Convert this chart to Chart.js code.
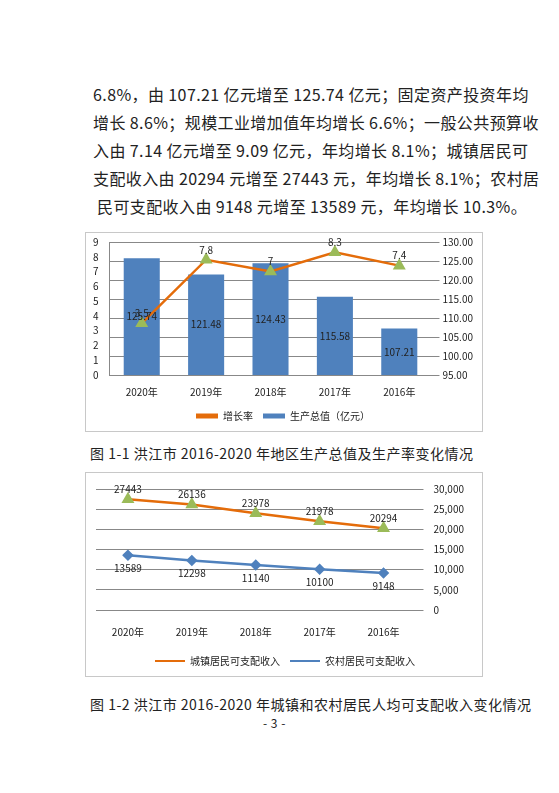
<!DOCTYPE html>
<html><head><meta charset="utf-8">
<script src="https://cdn.jsdelivr.net/npm/chart.js@4"></script>
<style>
body{margin:0;background:#fff;width:559px;height:793px;position:relative;font-family:"Noto Sans CJK SC",sans-serif;color:#222;}
.p{position:absolute;left:93px;font-size:16px;line-height:28px;white-space:nowrap;letter-spacing:0.4px}
.box{position:absolute;border:1px solid #c8c8c8;background:#fff}
.cap{position:absolute;font-size:14px;white-space:nowrap;letter-spacing:0.5px}
</style></head><body>
<div class="p" style="top:80px">6.8%，由 107.21 亿元增至 125.74 亿元；固定资产投资年均<br>增长 8.6%；规模工业增加值年均增长 6.6%；一般公共预算收<br>入由 7.14 亿元增至 9.09 亿元，年均增长 8.1%；城镇居民可<br>支配收入由 20294 元增至 27443 元，年均增长 8.1%；农村居<br>&nbsp;民可支配收入由 9148 元增至 13589 元，年均增长 10.3%。</div>
<div class="box" style="left:85px;top:232px;width:396px;height:198px"><canvas id="c1"></canvas></div>
<div class="cap" style="left:90px;top:443px">图 1-1 洪江市 2016-2020 年地区生产总值及生产率变化情况</div>
<div class="box" style="left:85px;top:472px;width:396px;height:203px"><canvas id="c2"></canvas></div>
<div class="cap" style="left:90px;top:694px">图 1-2 洪江市 2016-2020 年城镇和农村居民人均可支配收入变化情况</div>
<div class="cap" style="left:263px;top:714px;font-size:12px">- 3 -</div>
<script>
var years = ['2020年', '2019年', '2018年', '2017年', '2016年'];
var gdp = [125.74, 121.48, 124.43, 115.58, 107.21];
var growth = [3.5, 7.8, 7, 8.3, 7.4];
var urban = [27443, 26136, 23978, 21978, 20294];
var rural = [13589, 12298, 11140, 10100, 9148];

var blue = '#4f81bd', orange = '#e46c0a', tri = '#9bbb59';
Chart.defaults.font.family = '"Noto Sans CJK SC", sans-serif';
Chart.defaults.font.size = 10;
Chart.defaults.color = '#222';
Chart.defaults.animation = false;

var labelPlugin = {
    id: 'valueLabels',
    afterDraw: function (chart) {
        var ctx = chart.ctx;
        ctx.save();
        ctx.font = '10px "Noto Sans CJK SC", sans-serif';
        ctx.fillStyle = '#222';
        ctx.textAlign = 'center';
        ctx.textBaseline = 'middle';
        chart.data.datasets.forEach(function (ds, i) {
            var meta = chart.getDatasetMeta(i);
            meta.data.forEach(function (el, j) {
                var y;
                if (ds.labelPos === 'center') {
                    y = (el.y + chart.chartArea.bottom) / 2;
                } else if (ds.labelPos === 'below') {
                    y = el.y + 13;
                } else {
                    y = el.y - 10;
                }
                ctx.fillText(String(ds.data[j]), el.x, y);
            });
        });
        ctx.restore();
    }
};

function lineLegend(chart) {
    return chart.data.datasets.map(function (ds, i) {
        return {
            text: ds.label, datasetIndex: i, fontColor: '#222',
            fillStyle: ds.type === 'bar' ? ds.backgroundColor : ds.borderColor,
            strokeStyle: ds.type === 'bar' ? ds.backgroundColor : ds.borderColor,
            lineWidth: 0
        };
    });
}

new Chart(document.getElementById('c1'), {
    data: {
        labels: years,
        datasets: [{
            type: 'line', label: '增长率', data: growth, yAxisID: 'yl',
            borderColor: orange, borderWidth: 2.5, pointStyle: 'triangle',
            pointRadius: 5, pointBackgroundColor: tri, pointBorderColor: tri, labelPos: 'above'
        }, {
            type: 'bar', label: '生产总值（亿元）', data: gdp, yAxisID: 'yr',
            backgroundColor: blue, categoryPercentage: 0.56, barPercentage: 1, labelPos: 'center'
        }]
    },
    plugins: [labelPlugin],
    options: {
        responsive: true, maintainAspectRatio: false,
        layout: { padding: { left: 4, right: 6, top: 8, bottom: 0 } },
        plugins: {
            legend: { position: 'bottom', labels: { boxWidth: 22, boxHeight: 5, font: { size: 10 }, generateLabels: lineLegend } },
            tooltip: { enabled: false }
        },
        scales: {
            x: { grid: { display: false }, border: { color: '#888' }, ticks: { font: { size: 10 } } },
            yl: { position: 'left', min: 0, max: 9, ticks: { stepSize: 1, autoSkip: false }, grid: { display: false }, border: { color: '#888' } },
            yr: {
                position: 'right', min: 95, max: 130, ticks: { stepSize: 5, callback: function (v) { return v.toFixed(2); } },
                grid: { color: '#888' }, border: { display: false }
            }
        }
    }
});

new Chart(document.getElementById('c2'), {
    type: 'line',
    data: {
        labels: years,
        datasets: [{
            label: '城镇居民可支配收入', data: urban, borderColor: orange, borderWidth: 2.5,
            pointStyle: 'triangle', pointRadius: 5, pointBackgroundColor: tri, pointBorderColor: tri, labelPos: 'above'
        }, {
            label: '农村居民可支配收入', data: rural, borderColor: blue, borderWidth: 2.5,
            pointStyle: 'rectRot', pointRadius: 4, pointBackgroundColor: blue, pointBorderColor: blue, labelPos: 'below'
        }]
    },
    plugins: [labelPlugin],
    options: {
        responsive: true, maintainAspectRatio: false,
        layout: { padding: { left: 10, right: 8, top: 8, bottom: 0 } },
        plugins: {
            legend: { position: 'bottom', labels: { boxWidth: 30, boxHeight: 2, font: { size: 10 }, generateLabels: lineLegend } },
            tooltip: { enabled: false }
        },
        scales: {
            x: { offset: true, grid: { display: false }, border: { display: false }, ticks: { font: { size: 10 }, padding: 8 } },
            y: {
                position: 'right', min: 0, max: 30000,
                ticks: { stepSize: 5000, padding: 10, callback: function (v) { return v.toLocaleString('en-US'); } },
                grid: { color: '#888' }, border: { display: false }
            }
        }
    }
});
</script>
</body></html>
